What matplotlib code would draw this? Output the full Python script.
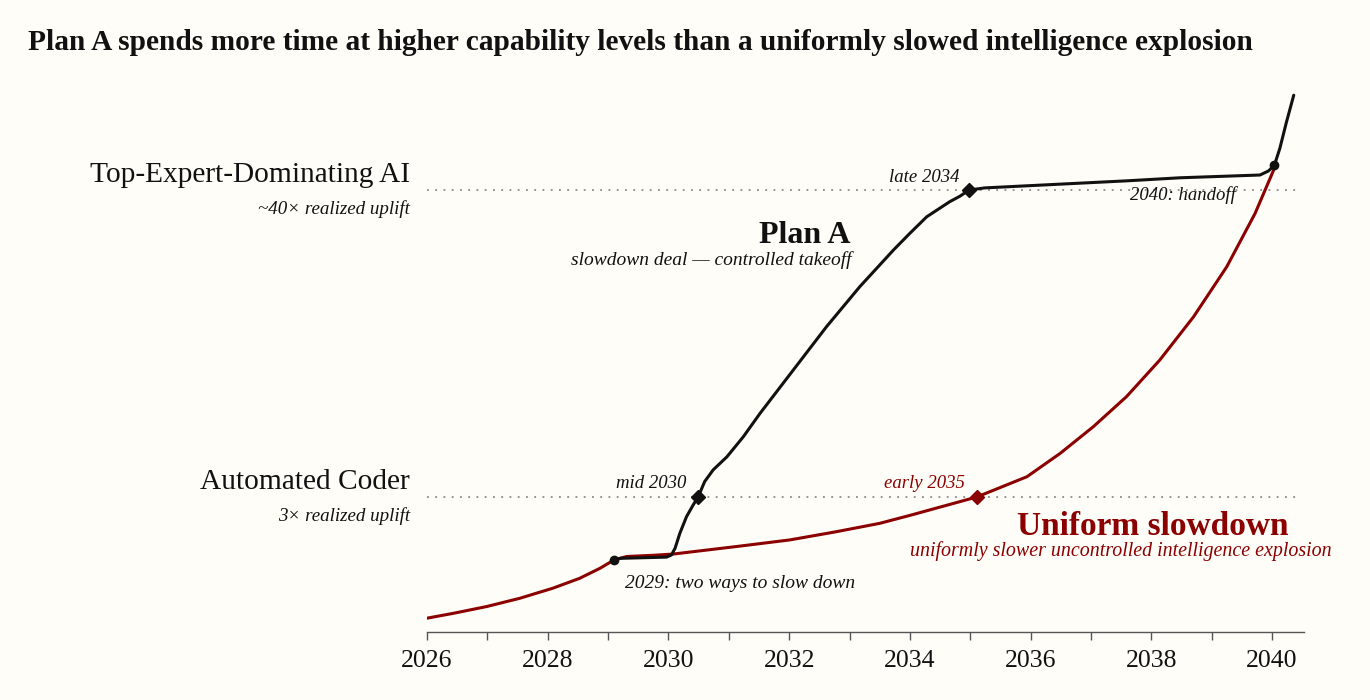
import matplotlib
matplotlib.use("Agg")
import matplotlib.pyplot as plt
from matplotlib.ticker import MultipleLocator

plt.rcParams['font.family'] = ['Liberation Serif', 'DejaVu Serif']

# ---- data (capability level: 1 = Automated Coder, 2 = Top-Expert-Dominating AI)
uniform_years = [2026.00, 2026.44, 2026.99, 2027.54, 2028.09, 2028.53, 2028.87, 2029.10,
                 2029.31, 2029.75, 2030.08, 2031.19, 2032.01, 2032.76, 2033.50, 2034.02,
                 2035.11, 2035.94, 2036.49, 2037.04, 2037.59, 2038.14, 2038.70, 2039.25,
                 2039.72, 2040.04]
uniform_level = [0.605, 0.621, 0.643, 0.670, 0.703, 0.735, 0.768, 0.795,
                 0.806, 0.810, 0.814, 0.840, 0.860, 0.886, 0.914, 0.941,
                 1.000, 1.066, 1.142, 1.229, 1.327, 1.446, 1.587, 1.750,
                 1.924, 2.071]

plana_years = [2029.10, 2029.20, 2029.97, 2030.05, 2030.11, 2030.19, 2030.30, 2030.41,
               2030.49, 2030.60, 2030.74, 2030.97, 2031.24, 2031.52, 2032.07, 2032.62,
               2033.17, 2033.45, 2033.73, 2034.00, 2034.28, 2034.66, 2034.83, 2034.98,
               2035.24, 2037.59, 2038.48, 2039.80, 2039.94, 2040.04, 2040.13, 2040.24,
               2040.36]
plana_level = [0.795, 0.800, 0.804, 0.811, 0.833, 0.882, 0.936, 0.974,
               0.999, 1.050, 1.088, 1.131, 1.196, 1.273, 1.414, 1.555,
               1.685, 1.745, 1.805, 1.859, 1.913, 1.962, 1.980, 2.000,
               2.007, 2.030, 2.040, 2.049, 2.062, 2.081, 2.136, 2.222,
               2.309]

milestone_levels = [1.0, 2.0]
milestone_names = ["Automated Coder", "Top-Expert-Dominating AI"]
milestone_notes = ["3\u00d7 realized uplift", "~40\u00d7 realized uplift"]

fork_point = (2029.10, 0.795)
handoff_point = (2040.04, 2.081)
plana_ac = (2030.49, 1.0)
plana_ted = (2034.98, 2.0)
uniform_ac = (2035.11, 1.0)

xticks_major = [2026, 2028, 2030, 2032, 2034, 2036, 2038, 2040]

BG = '#fffdf7'
RED = '#8b0000'
BLACK = '#111111'

fig = plt.figure(figsize=(13.7, 7.0), dpi=100, facecolor=BG)
ax = fig.add_axes([427/1370, 1-632/700, (1304-427)/1370, (632-90)/700])
ax.set_facecolor(BG)
ax.set_xlim(2026, 2040.53)
ax.set_ylim(0.56, 2.326)

for lvl in milestone_levels:
    ax.plot([2026, 2040.45], [lvl, lvl], color='#777777', lw=1.1,
            linestyle=(0, (1.2, 4.2)), zorder=1)

ax.plot(uniform_years, uniform_level, color=RED, lw=2.2, zorder=3,
        solid_capstyle='round', solid_joinstyle='round')
ax.plot(plana_years, plana_level, color=BLACK, lw=2.2, zorder=4,
        solid_capstyle='round', solid_joinstyle='round')

ax.plot(*fork_point, 'o', color=BLACK, ms=6, zorder=5)
ax.plot(*handoff_point, 'o', color=BLACK, ms=6, zorder=5)
ax.plot(*plana_ac, 'D', color=BLACK, ms=7, zorder=5)
ax.plot(*plana_ted, 'D', color=BLACK, ms=7, zorder=5)
ax.plot(*uniform_ac, 'D', color=RED, ms=7, zorder=5)

# milestone labels on the left
for lvl, name, note in zip(milestone_levels, milestone_names, milestone_notes):
    ax.text(2025.72, lvl + 0.025, name, ha='right', va='baseline', fontsize=21.2,
            color=BLACK, clip_on=False)
    ax.text(2025.72, lvl - 0.077, note, ha='right', va='baseline', fontsize=13.7,
            style='italic', color=BLACK, clip_on=False)

ann = dict(va='baseline', style='italic', clip_on=False)
ax.text(2030.29, 1.028, "mid 2030", ha='right', color=BLACK, fontsize=13.5, **ann)
ax.text(2029.28, 0.703, "2029: two ways to slow down", ha='left', color=BLACK,
        fontsize=14, **ann)
ax.text(2034.83, 2.027, "late 2034", ha='right', color=BLACK, fontsize=13.5, **ann)
ax.text(2037.64, 1.967, "2040: handoff", ha='left', color=BLACK, fontsize=13.5, **ann)
ax.text(2034.91, 1.028, "early 2035", ha='right', color=RED, fontsize=13.5, **ann)

ax.text(2033.01, 1.826, "Plan A", ha='right', va='baseline', fontsize=23,
        fontweight='bold', color=BLACK)
ax.text(2033.04, 1.756, "slowdown deal \u2014 controlled takeoff", ha='right',
        color=BLACK, fontsize=14, **ann)
ax.text(2040.27, 0.876, "Uniform slowdown", ha='right', va='baseline', fontsize=24,
        fontweight='bold', color=RED, clip_on=False)
ax.text(2040.99, 0.808, "uniformly slower uncontrolled intelligence explosion",
        ha='right', color=RED, fontsize=14.4, **ann)

# axes styling
for s in ['top', 'right', 'left']:
    ax.spines[s].set_visible(False)
ax.spines['bottom'].set_color('#555555')
ax.spines['bottom'].set_linewidth(1.0)
ax.set_yticks([])
ax.set_xticks(xticks_major)
ax.set_xticklabels([str(t) for t in xticks_major])
ax.xaxis.set_minor_locator(MultipleLocator(1))
ax.tick_params(axis='x', which='both', direction='out', length=6, width=1,
               color='#555555', labelsize=18.5, labelcolor=BLACK, pad=7)

fig.text(28/1370, 1-50/700,
         "Plan A spends more time at higher capability levels than a uniformly slowed intelligence explosion",
         ha='left', va='baseline', fontsize=21.2, fontweight='bold', color=BLACK)

fig.savefig('out.png', dpi=100, facecolor=BG)
